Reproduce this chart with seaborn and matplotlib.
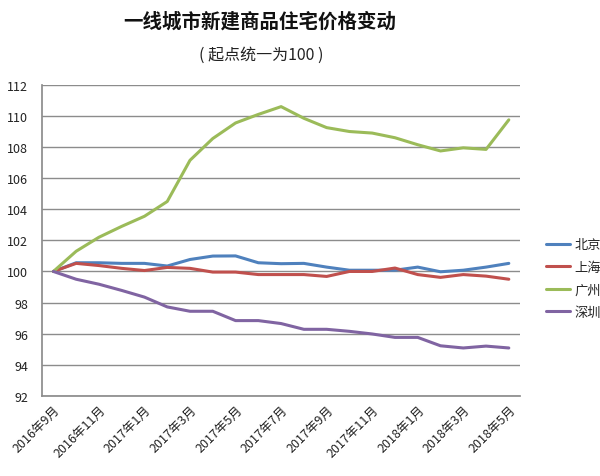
import numpy as np
import pandas as pd
import matplotlib
matplotlib.use("Agg")
import matplotlib.pyplot as plt
import seaborn as sns

months = ["2016年9月", "2016年10月", "2016年11月", "2016年12月", "2017年1月", "2017年2月",
          "2017年3月", "2017年4月", "2017年5月", "2017年6月", "2017年7月", "2017年8月",
          "2017年9月", "2017年10月", "2017年11月", "2017年12月", "2018年1月", "2018年2月",
          "2018年3月", "2018年4月", "2018年5月"]
beijing = [100.0, 100.56, 100.56, 100.52, 100.52, 100.35, 100.77, 100.99, 101.0, 100.56, 100.5,
           100.52, 100.28, 100.08, 100.08, 100.08, 100.28, 99.98, 100.08, 100.28, 100.52]
shanghai = [100.0, 100.52, 100.38, 100.2, 100.06, 100.26, 100.2, 99.96, 99.96, 99.8, 99.8,
            99.8, 99.68, 100.0, 100.0, 100.22, 99.8, 99.62, 99.8, 99.7, 99.5]
guangzhou = [100.0, 101.3, 102.2, 102.9, 103.55, 104.5, 107.15, 108.55, 109.55, 110.1, 110.6,
             109.85, 109.25, 109.0, 108.9, 108.6, 108.15, 107.75, 107.95, 107.85, 109.75]
shenzhen = [100.0, 99.5, 99.18, 98.78, 98.35, 97.72, 97.44, 97.44, 96.84, 96.84, 96.65,
            96.28, 96.28, 96.15, 95.98, 95.76, 95.76, 95.22, 95.08, 95.2, 95.08]
cities = ["北京", "上海", "广州", "深圳"]
colors = ["#4F81BD", "#C0504D", "#9BBB59", "#8064A2"]

sns.set_theme(style="white")
plt.rcParams['font.family'] = ['Noto Sans CJK SC', 'DejaVu Sans']

frames = []
for name, vals in zip(cities, [beijing, shanghai, guangzhou, shenzhen]):
    frames.append(pd.DataFrame({"idx": np.arange(len(months)), "value": vals, "city": name}))
df = pd.concat(frames, ignore_index=True)

fig = plt.figure(figsize=(6.0, 4.77), dpi=100)
ax = fig.add_axes([0.07, 0.168, 0.797, 0.652])
sns.lineplot(data=df, x="idx", y="value", hue="city", hue_order=cities,
             palette=colors, linewidth=2.2, sort=False, ax=ax)

ax.set_xlim(-0.5, len(months) - 0.5)
ax.set_ylim(92, 112)
ax.set_yticks(np.arange(92, 113, 2))
ax.set_yticklabels([str(v) for v in range(92, 113, 2)], fontsize=9, color="#222222")
ax.set_xticks(np.arange(0, len(months), 2))
ax.set_xticklabels(months[::2], rotation=45, ha="right", rotation_mode="anchor",
                   fontsize=9, color="#222222")
ax.tick_params(axis="y", length=0, pad=10)
ax.tick_params(axis="x", length=0, pad=5)
ax.yaxis.grid(True, color="#8c8c8c", linewidth=1.0)
ax.xaxis.grid(False)
for s in ["top", "right"]:
    ax.spines[s].set_visible(False)
ax.spines["left"].set_color("#8c8c8c")
ax.spines["bottom"].set_color("#8c8c8c")
ax.set_xlabel("")
ax.set_ylabel("")

leg = ax.legend(loc="upper left", bbox_to_anchor=(1.03, 0.545), frameon=False,
                fontsize=9.5, handlelength=1.8, handletextpad=0.3, labelspacing=0.72)

fig.text(0.433, 0.954, "一线城市新建商品住宅价格变动", ha="center", va="center",
         fontsize=14, fontweight="bold", color="#111111")
fig.text(0.435, 0.885, "( 起点统一为100 )", ha="center", va="center",
         fontsize=11.5, color="#222222")

fig.savefig("out.png", dpi=100)
